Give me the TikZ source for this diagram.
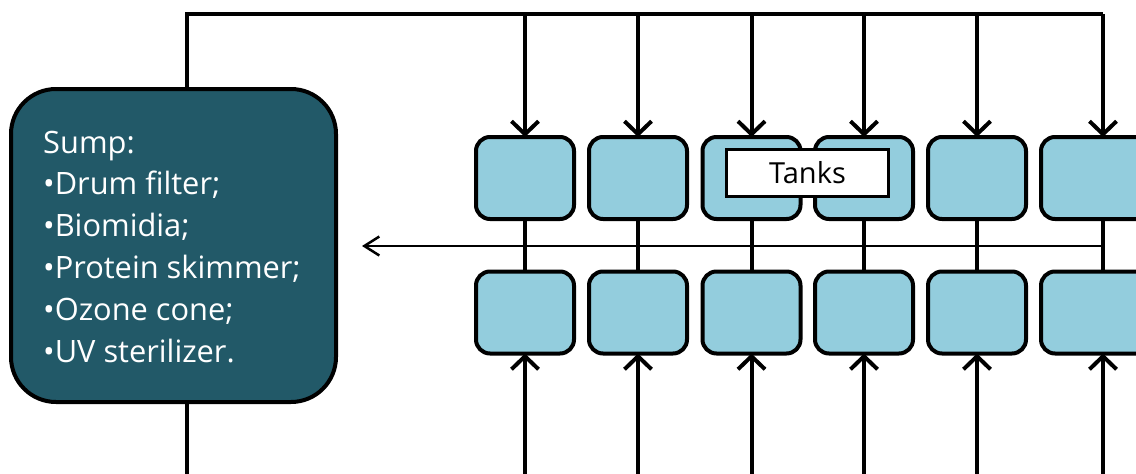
\documentclass[tikz,border=0pt]{standalone}
\usepackage{fontspec}
\setmainfont{Open Sans}[Ligatures=NoCommon]
\usetikzlibrary{arrows.meta}
\definecolor{sumpfill}{RGB}{34,89,104}
\definecolor{tankfill}{RGB}{147,205,221}
\tikzset{
  tank/.style={draw=black, line width=4pt, fill=tankfill, rounded corners=14pt,
    minimum width=98pt, minimum height=82pt, inner sep=0pt, outer sep=0pt},
  sumpbox/.style={draw=black, line width=4pt, fill=sumpfill, rounded corners=45pt,
    minimum width=325pt, minimum height=313pt, inner sep=0pt, outer sep=0pt},
  sumptxt/.style={text=white, inner sep=0pt, font=\fontsize{30.8}{41}\selectfont},
  label/.style={draw=black, line width=3pt, fill=white, minimum width=162pt,
    minimum height=47pt, inner sep=0pt, outer sep=0pt, font=\fontsize{29}{36}\selectfont},
  pipe/.style={line width=3.5pt, line join=miter},
  feed/.style={line width=4pt, -{Straight Barb[length=13pt,width=27pt,line width=4pt]}},
  ret/.style={line width=2.5pt, -{Straight Barb[length=15pt,width=19pt,line width=2.5pt]}},
  link/.style={line width=4pt}
}
\begin{document}
\begin{tikzpicture}[x=1pt,y=-1pt]
\useasboundingbox (0,0) rectangle (1136,474);
\fill[white] (0,0) rectangle (1136,474);
% sump
\node[sumpbox] (sump) at (173.5,245.5) {};
\foreach \t [count=\i from 0] in {Sump:,•Drum filter;,•Biomidia;,•Protein skimmer;,•Ozone cone;,•UV sterilizer.}
  \node[sumptxt, anchor=base west] (s\i) at (43,{153+41.8*\i}) {\t};
% tanks
\foreach \x [count=\i] in {525,638,751.5,864,977}{
  \node[tank] (top\i) at (\x,178) {};
  \node[tank] (bot\i) at (\x,312.5) {};
}
\node[tank, minimum width=124pt] (top6) at (1103,178) {};
\node[tank, minimum width=124pt] (bot6) at (1103,312.5) {};
% coordinates
\coordinate (sl) at (187,14);
\coordinate (sb) at (187,474);
\foreach \x [count=\i] in {525,638,751.5,864,977,1103}{
  \coordinate (t\i) at (\x,14);
  \coordinate (b\i) at (\x,474);
}
\coordinate (hr) at (1103,246);
\coordinate (hl) at (362,246);
% top supply
\draw[pipe] (sump.north -| sl) -- (sl) -- (t6);
\foreach \i in {1,...,6}{
  \draw[feed] (t\i) -- (top\i.north);
  \draw[link] (top\i.south) -- (bot\i.north);
  \draw[feed] (b\i) -- (bot\i.south);
}
\draw[pipe] (sump.south -| sb) -- (sb);
% return
\draw[ret] (hr) -- (hl);
% label
\node[label] (tanks) at (807.5,173) {Tanks};
\end{tikzpicture}
\end{document}
